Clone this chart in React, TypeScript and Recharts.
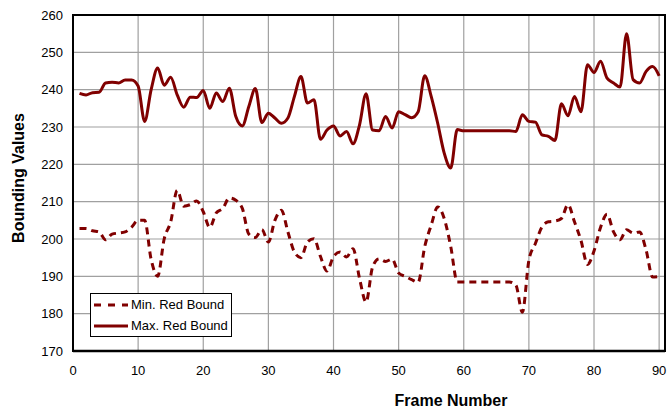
import React from 'react';
import {
  LineChart,
  Line,
  XAxis,
  YAxis,
  CartesianGrid,
  Legend,
  ReferenceArea,
} from 'recharts';

// frame numbers 1..90
const frames = [
  1, 2, 3, 4, 5, 6, 7, 8, 9, 10, 11, 12, 13, 14, 15, 16, 17, 18, 19, 20,
  21, 22, 23, 24, 25, 26, 27, 28, 29, 30, 31, 32, 33, 34, 35, 36, 37, 38, 39, 40,
  41, 42, 43, 44, 45, 46, 47, 48, 49, 50, 51, 52, 53, 54, 55, 56, 57, 58, 59, 60,
  61, 62, 63, 64, 65, 66, 67, 68, 69, 70, 71, 72, 73, 74, 75, 76, 77, 78, 79, 80,
  81, 82, 83, 84, 85, 86, 87, 88, 89, 90,
];

const minRedBound = [
  202.8, 202.8, 202.2, 201.9, 199.8, 201.3, 201.6, 201.9, 203.2, 205,
  205, 194.5, 190, 200, 204.6, 213, 208.8, 209.2, 210.2, 207.3,
  203.1, 207, 208.2, 211, 210.4, 208.2, 201.3, 200.4, 202.5, 199.2,
  205, 207.7, 201.9, 196.5, 195, 199.2, 200.1, 195.3, 191.4, 195.3,
  196.5, 195.2, 197.4, 189.4, 183.1, 192.5, 194.7, 194, 194.6, 190.9,
  190, 189.1, 188.4, 197.9, 203.7, 208.6, 205.5, 198, 188.5, 188.5,
  188.5, 188.5, 188.5, 188.5, 188.5, 188.5, 188.5, 187.6, 180.4, 194.3,
  198.8, 203.2, 204.6, 204.8, 205.5, 209.2, 204.6, 199.6, 193.2, 196.8,
  203.1, 206.6, 201.9, 199.8, 202.5, 201.6, 201.9, 197, 189.8, 190,
];

const maxRedBound = [
  239, 238.6, 239.2, 239.3, 241.8, 242, 241.8, 242.6, 242.6, 241,
  231.5, 240, 245.8, 241.2, 243.3, 238.6, 235.3, 238, 237.9, 239.8,
  235, 239.1, 236.8, 240.4, 232.8, 230.3, 235.5, 240.3, 231.2, 233.7,
  232.4, 231, 232.4, 238.2, 243.5, 236.4, 237.3, 226.7, 229.2, 230.3,
  227.6, 228.8, 225.5, 230.6, 238.9, 229.2, 229, 232.8, 229.7, 234.1,
  233.3, 232.5, 234.1, 243.7, 238.2, 231, 223, 219, 229.3, 229,
  229, 229, 229, 229, 229, 229, 229, 228.8, 233.3, 231.5,
  231.3, 227.9, 227.5, 226.4, 236.2, 233, 238.2, 234.1, 246.7, 244.6,
  247.6, 243.1, 241.8, 240.7, 255, 242.7, 241.8, 244.9, 246.2, 243.7,
];

const xTicks = [0, 10, 20, 30, 40, 50, 60, 70, 80, 90];
const yTicks = [170, 180, 190, 200, 210, 220, 230, 240, 250, 260];
const xMinorTicks = Array.from({ length: 46 }, (_, i) => i * 2);
const yMinorTicks = Array.from({ length: 46 }, (_, i) => 170 + i * 2);

const legendItems = [
  { key: 'min', label: 'Min. Red Bound', dash: '7 7' },
  { key: 'max', label: 'Max. Red Bound', dash: undefined },
];

const data = frames.map((f, i) => ({
  frame: f,
  min: minRedBound[i],
  max: maxRedBound[i],
}));

const RED = '#800000';
const X_DOMAIN: [number, number] = [0, 90.9];
const Y_DOMAIN: [number, number] = [170, 260];

const renderLegend = () => (
  <div
    style={{
      border: '1px solid #000',
      background: '#fff',
      width: 142,
      height: 44,
      boxSizing: 'border-box',
      paddingLeft: 3,
      fontSize: 13,
      color: '#000',
    }}
  >
    {legendItems.map((item) => (
      <div key={item.key} style={{ display: 'flex', alignItems: 'center', height: 21 }}>
        <svg width={34} height={6}>
          <line x1={0} y1={3} x2={34} y2={3} stroke={RED} strokeWidth={3} strokeDasharray={item.dash} />
        </svg>
        <span style={{ marginLeft: 3 }}>{item.label}</span>
      </div>
    ))}
  </div>
);

export default function App() {
  return (
    <div style={{ position: 'absolute', left: 0, top: 0, fontFamily: '"Liberation Sans", Arial, sans-serif' }}>
      <LineChart width={667} height={410} data={data} margin={{ top: 15, right: 2, bottom: 0, left: 0 }}>
        <CartesianGrid stroke="#a0a0a0" strokeWidth={1.2} />
        {/* minor ticks pointing into the plot */}
        <XAxis
          xAxisId="minor"
          type="number"
          dataKey="frame"
          domain={X_DOMAIN}
          ticks={xMinorTicks}
          height={1}
          mirror
          tick={false}
          tickSize={5}
          tickLine={{ stroke: '#000', strokeWidth: 1 }}
          axisLine={false}
          allowDataOverflow
        />
        <YAxis
          yAxisId="minor"
          type="number"
          domain={Y_DOMAIN}
          ticks={yMinorTicks}
          width={1}
          mirror
          tick={false}
          tickSize={5}
          tickLine={{ stroke: '#000', strokeWidth: 1 }}
          axisLine={false}
          allowDataOverflow
        />
        <XAxis
          type="number"
          dataKey="frame"
          domain={X_DOMAIN}
          ticks={xTicks}
          height={59}
          tickLine={false}
          tickSize={6}
          tickMargin={9}
          tick={{ fontSize: 13, fill: '#000' }}
          axisLine={{ stroke: '#000', strokeWidth: 2.5 }}
          allowDataOverflow
          label={{ value: 'Frame Number', position: 'insideBottom', offset: 4, dx: 82, style: { fontSize: 16, fontWeight: 'bold', fill: '#000' } }}
        />
        <YAxis
          type="number"
          domain={Y_DOMAIN}
          ticks={yTicks}
          width={73}
          tickLine={false}
          tickSize={6}
          tickMargin={4}
          tick={{ fontSize: 13, fill: '#000' }}
          axisLine={{ stroke: '#000', strokeWidth: 2 }}
          allowDataOverflow
          label={{ value: 'Bounding Values', angle: -90, position: 'insideLeft', offset: 18, dy: -5, style: { textAnchor: 'middle', fontSize: 16, fontWeight: 'bold', fill: '#000' } }}
        />
        <ReferenceArea x1={0} x2={90.9} y1={170} y2={260} fill="none" stroke="#000" strokeWidth={2} ifOverflow="visible" />
        <Line
          type="monotone"
          dataKey="min"
          stroke={RED}
          strokeWidth={3}
          strokeDasharray="7 5"
          dot={false}
          isAnimationActive={false}
        />
        <Line
          type="monotone"
          dataKey="max"
          stroke={RED}
          strokeWidth={3}
          dot={false}
          isAnimationActive={false}
        />
        <Legend
          layout="vertical"
          align="center"
          verticalAlign="middle"
          content={renderLegend}
          wrapperStyle={{ left: 90, top: 293, width: 142, height: 44 }}
        />
      </LineChart>
    </div>
  );
}
